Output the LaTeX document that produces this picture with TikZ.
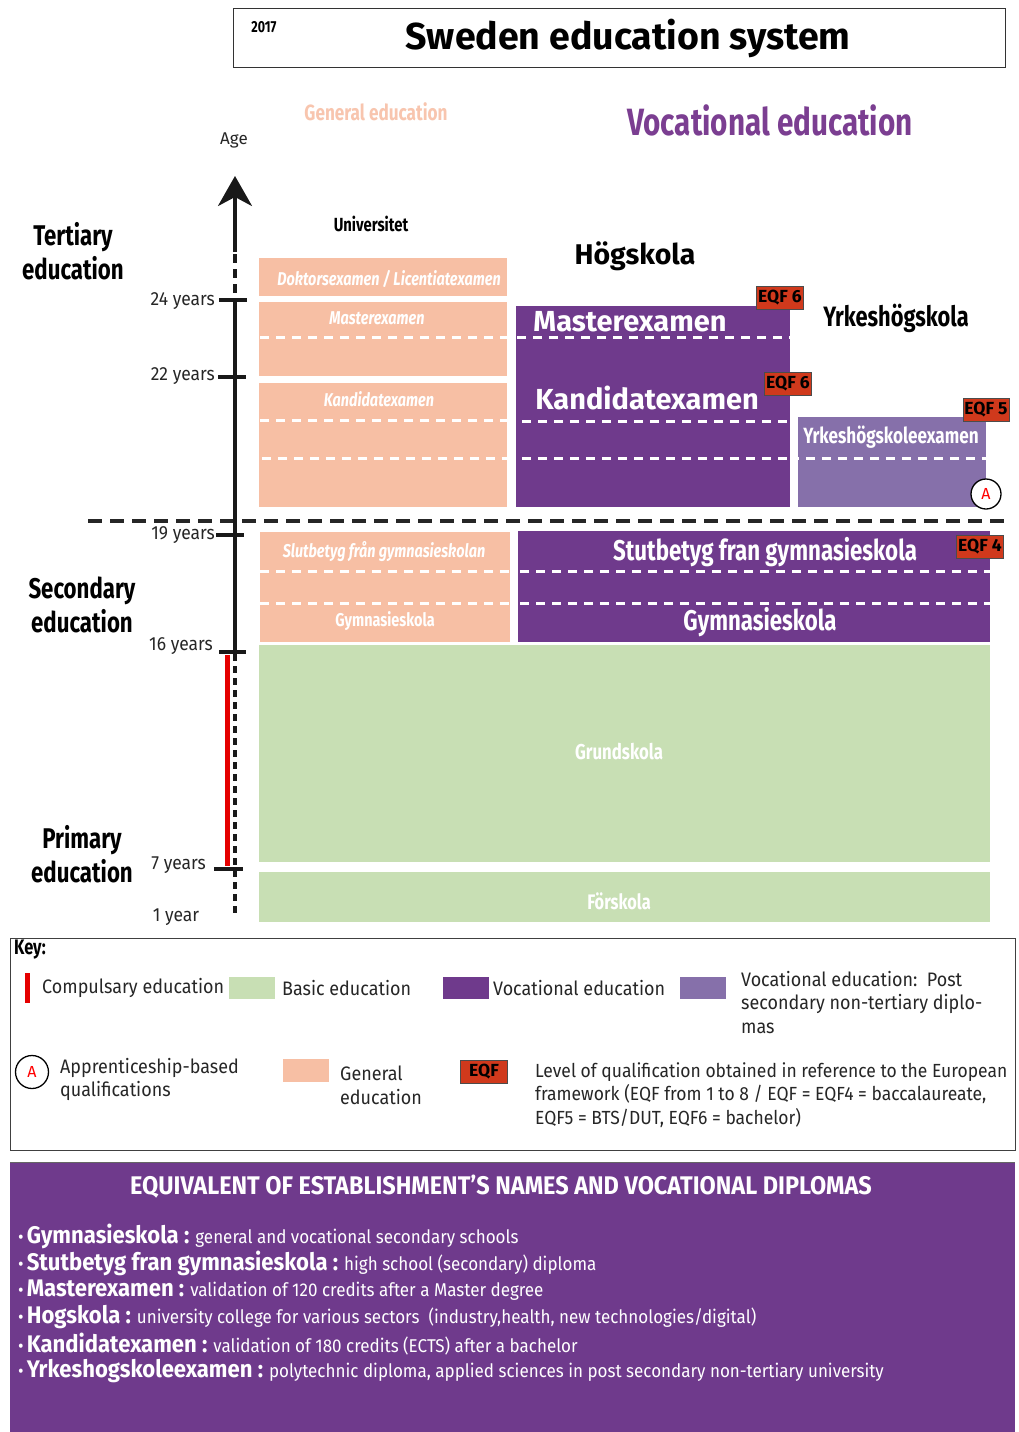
\documentclass[tikz,border=0pt]{standalone}
\usepackage{fontspec}
\usetikzlibrary{arrows.meta}
\setmainfont{Fira Sans}
\newfontfamily\cf[FakeStretch=0.78]{Fira Sans}
\newfontfamily\cfw[FakeStretch=0.92]{Fira Sans}
\newcommand\itbfont{\cfw\bfseries\fontsize{24}{26}\selectfont}
\definecolor{salmon}{HTML}{F7BFA4}
\definecolor{purp}{HTML}{6F3A8C}
\definecolor{lpurp}{HTML}{8670AA}
\definecolor{lgreen}{HTML}{C8DFB4}
\definecolor{eqfred}{HTML}{D0391C}
\definecolor{genlab}{HTML}{F8C5AE}
\definecolor{voclab}{HTML}{7B3E91}
\tikzset{
  wdash/.style={white,line width=3pt,dash pattern=on 9pt off 7pt},
  axisline/.style={line width=3.5pt,black!90},
  tick/.style={line width=3.5pt,black!90},
  yearlab/.style={anchor=east,font=\cfw\fontsize{19}{21}\selectfont,text=black!85,inner sep=1pt},
  sectlab/.style={align=center,font=\cf\bfseries\fontsize{28.5}{34}\selectfont,text=black},
  salmontxt/.style={text=white,font=\cf\itshape\bfseries\fontsize{18.5}{20}\selectfont},
  purptxt/.style={text=white,font=\bfseries\fontsize{29}{31}\selectfont},
  eqf/.style={fill=eqfred,draw=black!70,line width=0.8pt,text=black,font=\bfseries\fontsize{17.5}{18}\selectfont,inner xsep=1.5pt,inner ysep=0pt,minimum height=23pt},
  acirc/.style={circle,draw=black,line width=1.3pt,fill=white,text=red,minimum size=30pt,inner sep=0pt,font=\fontsize{16}{17}\selectfont},
  keytxt/.style={anchor=west,font=\cfw\fontsize{19.5}{23.5}\selectfont,text=black!85,align=left,inner sep=0pt},
}
\begin{document}
\begin{tikzpicture}[x=1pt,y=-1pt]
\useasboundingbox (0,0) rectangle (1019,1432);
\fill[white] (0,0) rectangle (1019,1432);
% title
\node[draw=black!80,line width=1.2pt,minimum width=772pt,minimum height=59pt,anchor=north west,inner sep=0pt] (titlebox) at (233,8) {};
\node[font=\cf\bfseries\fontsize{16}{18}\selectfont] (year) at (264,27) {2017};
\node[font=\bfseries\fontsize{37.5}{40}\selectfont] (title) at (628,38) {Sweden education system};
\node[font=\cf\bfseries\fontsize{22}{24}\selectfont,text=genlab] (genlabel) at (376,112) {General education};
\node[font=\cf\bfseries\fontsize{38}{40}\selectfont,text=voclab] (voclabel) at (770,120) {Vocational education};
\node[font=\fontsize{17}{19}\selectfont,text=black!85] (age) at (234,140) {Age};
% section labels
\node[sectlab] (tert) at (73,251) {Tertiary\\education};
\node[sectlab] (sec) at (82,605) {Secondary\\education};
\node[sectlab] (prim) at (82,854) {Primary\\education};
% salmon boxes
\fill[salmon] (259,258) rectangle (507,296);
\fill[salmon] (259,302) rectangle (507,376);
\fill[salmon] (259,383) rectangle (507,507);
\fill[salmon] (260,532) rectangle (510,642);
\draw[wdash] (260,337) -- (507,337);
\draw[wdash] (260,420) -- (507,420);
\draw[wdash] (262,458) -- (507,458);
\draw[wdash] (260,571) -- (510,571);
\draw[wdash] (260,603) -- (510,603);
\node[salmontxt] (dok) at (389,279) {Doktorsexamen / Licentiatexamen};
\node[salmontxt] (gmas) at (377,318) {Masterexamen};
\node[salmontxt] (gkand) at (379,399) {Kandidatexamen};
\node[salmontxt] (gslut) at (384,552) {Slutbetyg från gymnasieskolan};
\node[text=white,font=\cf\bfseries\fontsize{18.5}{20}\selectfont] (ggym) at (385,621) {Gymnasieskola};
\node[font=\cf\bfseries\fontsize{19}{21}\selectfont] (univ) at (371,224) {Universitet};
% purple boxes
\node[font=\bfseries\fontsize{28.5}{31}\selectfont] (hog) at (635,256) {Högskola};
\fill[purp] (516,306) rectangle (790,507);
\draw[wdash] (517,337) -- (790,337);
\draw[wdash] (522,421) -- (790,421);
\draw[wdash] (522,458) -- (790,458);
\node[purptxt] (vmas) at (630,322) {Masterexamen};
\node[purptxt] (vkand) at (647,398) {Kandidatexamen};
\node[font=\cf\bfseries\fontsize{28}{30}\selectfont] (yrk) at (896,318) {Yrkeshögskola};
\fill[lpurp] (798,417) rectangle (986,507);
\draw[wdash] (790,458) -- (986,458);
\node[text=white,font=\cf\bfseries\fontsize{22}{24}\selectfont] (yrkex) at (891,437) {Yrkeshögskoleexamen};
\node[acirc] (acirc1) at (986,494) {A};
\node[eqf] (eqf1) at (780,298) {EQF 6};
\node[eqf] (eqf2) at (788,384) {EQF 6};
\node[eqf] (eqf3) at (986,410) {EQF 5};
\fill[purp] (518,531) rectangle (990,642);
\draw[wdash] (520,571) -- (990,571);
\draw[wdash] (520,603) -- (990,603);
\node[text=white,font=\cf\bfseries\fontsize{28.6}{30}\selectfont] (vslut) at (765,552) {Stutbetyg fran gymnasieskola};
\node[text=white,font=\cf\bfseries\fontsize{28.5}{30}\selectfont] (vgym) at (760,622) {Gymnasieskola};
\node[eqf] (eqf4) at (980,547) {EQF 4};
% green
\fill[lgreen] (259,645) rectangle (990,862);
\fill[lgreen] (259,872) rectangle (990,922);
\node[text=white,font=\cf\bfseries\fontsize{21.5}{23}\selectfont] (grund) at (619,752) {Grundskola};
\node[text=white,font=\cf\bfseries\fontsize{21}{23}\selectfont] (forsk) at (619,901) {Förskola};
% big dashed separator
\draw[line width=4pt,black!85,dash pattern=on 14pt off 8pt] (88,521) -- (1010,521);
% axis
\draw[red!90!black,line width=5pt] (227,655) -- (227,866);
\draw[axisline,-{Stealth[length=30pt,width=34pt,inset=9pt]}] (235,252) -- (235,176);
\draw[axisline,dash pattern=on 9pt off 6pt] (235,254) -- (235,300);
\draw[axisline] (235,300) -- (235,652);
\draw[axisline,dash pattern=on 7pt off 5pt] (235,654) -- (235,916);
\draw[tick] (219,300) -- (247,300);
\draw[tick] (218,377) -- (246,377);
\draw[tick] (216,535) -- (244,535);
\draw[tick] (219,652) -- (246,652);
\draw[tick] (214,869) -- (243,869);
\node[yearlab] (y24) at (216,301) {24 years};
\node[yearlab] (y22) at (216,376) {22 years};
\node[yearlab] (y19) at (216,535) {19 years};
\node[yearlab] (y16) at (214,646) {16 years};
\node[yearlab] (y7) at (207,865) {7 years};
\node[yearlab,anchor=center] (y1) at (176,917) {1 year};
% key
\node[draw=black!75,line width=1pt,minimum width=1005pt,minimum height=212pt,anchor=north west,inner sep=0pt] (keybox) at (10,938) {};
\node[anchor=west,font=\cf\bfseries\fontsize{21}{23}\selectfont,inner sep=0pt] (keyt) at (14,950) {Key:};
\fill[red!90!black] (25,973) rectangle (30,1003);
\node[keytxt] (k1) at (42,988) {Compulsary education};
\fill[lgreen] (229,977) rectangle (275,999);
\node[keytxt] (k2) at (282,988) {Basic education};
\fill[purp] (443,977) rectangle (489,999);
\node[keytxt] (k3) at (493,988) {Vocational education};
\fill[lpurp] (680,977) rectangle (726,999);
\node[keytxt,anchor=north west] (k4) at (741,971) {Vocational education:\ \ Post\\secondary non-tertiary diplo-\\mas};
\node[acirc,minimum size=33pt] (acirc2) at (32,1072) {A};
\node[keytxt,anchor=north west] (k5) at (60,1058) {Apprenticeship-based\\qualifications};
\fill[salmon] (283,1059) rectangle (329,1082);
\node[keytxt,anchor=north west] (k6) at (340,1066) {General\\education};
\node[eqf,minimum width=47pt] (eqfk) at (484,1072) {EQF};
\node[keytxt,anchor=north west,font=\cfw\fontsize{19}{23.5}\selectfont] (k7) at (535,1062) {Level of qualification obtained in reference to the European\\framework (EQF from 1 to 8 / EQF = EQF4 = baccalaureate,\\EQF5 = BTS/DUT, EQF6 = bachelor)};
% equivalents box
\fill[purp] (10,1162) rectangle (1015,1432);
\draw[black!60,line width=1pt] (10,1162) -- (1015,1162);
\node[text=white,font=\cfw\bfseries\fontsize{25.5}{27}\selectfont] (eqtitle) at (501,1187) {EQUIVALENT OF ESTABLISHMENT’S NAMES AND VOCATIONAL DIPLOMAS};
\begin{scope}[every node/.style={anchor=west,text=white,inner sep=0pt,font=\cfw\fontsize{18.5}{20}\selectfont}]
\node (i1) at (18,1236) {•\,{\itbfont Gymnasieskola :} general and vocational secondary schools};
\node (i2) at (18,1263) {•\,{\itbfont Stutbetyg fran gymnasieskola :} high school (secondary) diploma};
\node (i3) at (18,1290) {•\,{\itbfont Masterexamen :} validation of 120 credits after a Master degree};
\node (i4) at (18,1317) {•\,{\itbfont Hogskola :} university college for various sectors\ \ (industry,health, new technologies/digital)};
\node (i5) at (18,1344) {•\,{\itbfont Kandidatexamen :} validation of 180 credits (ECTS) after a bachelor};
\node (i6) at (18,1371) {•\,{\itbfont Yrkeshogskoleexamen :} polytechnic diploma, applied sciences in post secondary non-tertiary university};
\end{scope}
\end{tikzpicture}
\end{document}
